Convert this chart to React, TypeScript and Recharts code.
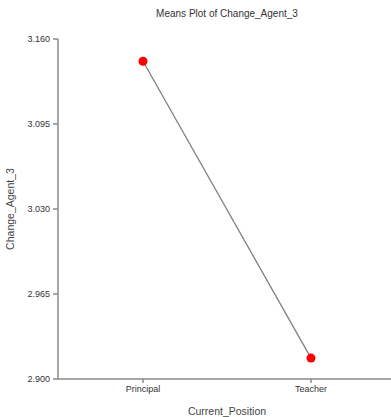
import React from "react";
import { LineChart, Line, XAxis, YAxis, Label } from "recharts";

const positions = ["Principal", "Teacher"];
const means = [3.143, 2.916];
const yTicks = [2.9, 2.965, 3.03, 3.095, 3.16];

const data = positions.map((p, i) => ({ position: p, mean: means[i] }));

const font = "'Liberation Sans', Arial, sans-serif";
const axisGray = "#8a8a8a";

export default function App() {
  return (
    <div
      style={{
        position: "absolute",
        left: 0,
        top: 0,
        width: 391,
        height: 417,
        overflow: "hidden",
        background: "#fff",
        fontFamily: font,
      }}
    >
      <div
        style={{
          position: "absolute",
          top: 8,
          left: 58,
          width: 338,
          textAlign: "center",
          fontSize: 10,
          color: "#333",
        }}
      >
        Means Plot of Change_Agent_3
      </div>
      <LineChart
        width={400}
        height={417}
        data={data}
        margin={{ top: 39, right: 4, left: 0, bottom: 0 }}
      >
        <XAxis
          dataKey="position"
          height={38}
          padding={{ left: 85, right: 85 }}
          stroke={axisGray}
          strokeWidth={1.5}
          tickSize={4}
          tick={{ fill: "#333", fontSize: 9, fontFamily: font }}
          tickMargin={3}
        >
          <Label
            value="Current_Position"
            position="insideBottom"
            offset={2}
            style={{ fill: "#444", fontSize: 10.5, fontFamily: font }}
          />
        </XAxis>
        <YAxis
          width={58}
          domain={[2.9, 3.16]}
          ticks={yTicks}
          tickFormatter={(v: number) => v.toFixed(3)}
          stroke={axisGray}
          strokeWidth={1.5}
          tickSize={5}
          tickMargin={3}
          tick={{ fill: "#333", fontSize: 9, fontFamily: font }}
          allowDataOverflow
        >
          <Label
            value="Change_Agent_3"
            angle={-90}
            position="insideLeft"
            offset={10}
            style={{ fill: "#444", fontSize: 10.5, fontFamily: font, textAnchor: "middle" }}
          />
        </YAxis>
        <Line
          type="linear"
          dataKey="mean"
          stroke="#808080"
          strokeWidth={1.3}
          dot={{ r: 4.5, fill: "#ff0000", stroke: "#ff0000", strokeWidth: 0 }}
          isAnimationActive={false}
        />
      </LineChart>
    </div>
  );
}
